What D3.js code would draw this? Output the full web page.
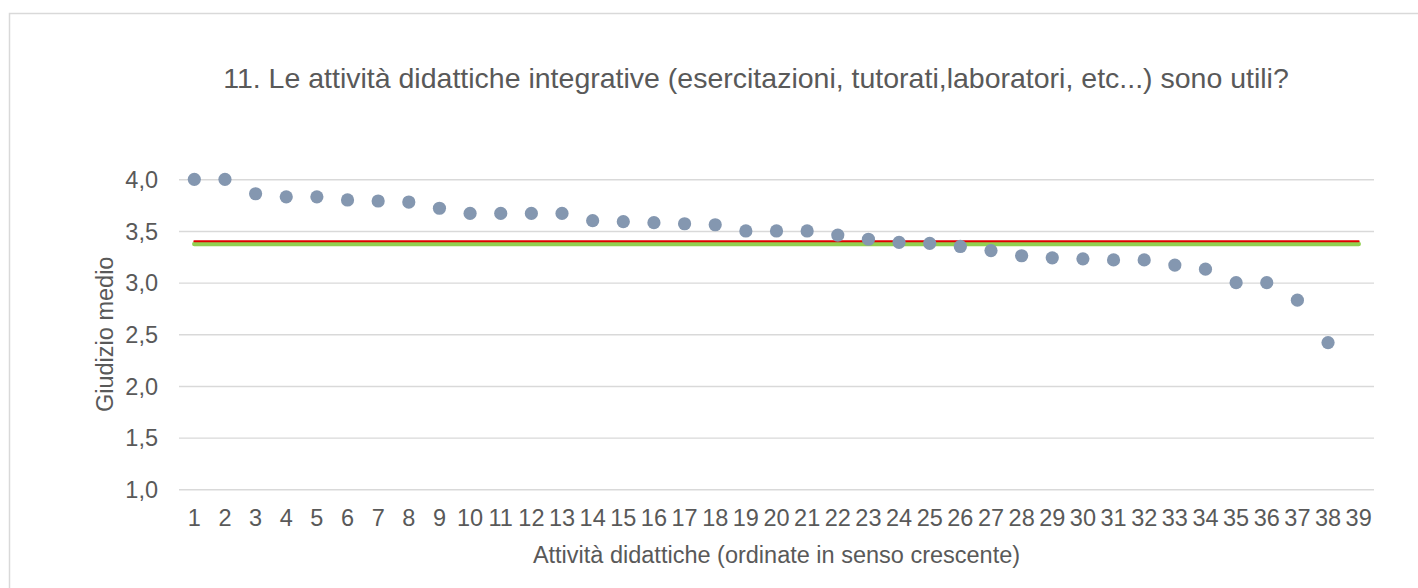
<!DOCTYPE html>
<html>
<head>
<meta charset="utf-8">
<script src="https://cdn.jsdelivr.net/npm/d3@7"></script>
<style>
  html, body { margin: 0; padding: 0; background: #fff; }
  svg { display: block; }
  text { font-family: "Liberation Sans", Arial, sans-serif; fill: #595959; }
</style>
</head>
<body>
<svg id="chart" width="1418" height="588"></svg>
<script>
// ---- data ----
const categories = d3.range(1, 40).map(String); // "1".."39"
const giudizi = [4.00, 4.00, 3.86, 3.83, 3.83, 3.80, 3.79, 3.78, 3.72, 3.67,
                 3.67, 3.67, 3.67, 3.60, 3.59, 3.58, 3.57, 3.56, 3.50, 3.50,
                 3.50, 3.46, 3.42, 3.39, 3.38, 3.35, 3.31, 3.26, 3.24, 3.23,
                 3.22, 3.22, 3.17, 3.13, 3.00, 3.00, 2.83, 2.42];
const yTicks = [1.0, 1.5, 2.0, 2.5, 3.0, 3.5, 4.0];
const mediaRossa = 3.40;
const mediaVerde = 3.375;
const titolo = "11. Le attività didattiche integrative (esercitazioni, tutorati,laboratori, etc...) sono utili?";
const titoloX = "Attività didattiche (ordinate in senso crescente)";
const titoloY = "Giudizio medio";

// ---- layout ----
const svg = d3.select("#chart");
const plot = { left: 179, right: 1374, top: 179.3, bottom: 489.3 };

const x = d3.scaleBand().domain(categories).range([plot.left, plot.right]).padding(0);
const y = d3.scaleLinear().domain([1, 4]).range([plot.bottom, plot.top]);
const fmt = v => d3.format(".1f")(v).replace(".", ",");

// chart border
svg.append("rect")
  .attr("x", 9.5).attr("y", 13.5)
  .attr("width", 1600).attr("height", 700)
  .attr("fill", "#fff").attr("stroke", "#d9d9d9").attr("stroke-width", 1.5);

// title
svg.append("text")
  .attr("x", 756).attr("y", 88)
  .attr("text-anchor", "middle")
  .style("font-size", "28.5px")
  .text(titolo);

// gridlines
svg.append("g")
  .attr("transform", `translate(${plot.left},0)`)
  .call(d3.axisLeft(y).tickValues(yTicks).tickSize(-(plot.right - plot.left)).tickFormat(""))
  .call(g => g.select(".domain").remove())
  .call(g => g.selectAll("line").attr("stroke", "#d9d9d9").attr("stroke-width", 1.4));

// y tick labels
svg.append("g")
  .attr("transform", `translate(${plot.left - 21},0)`)
  .call(d3.axisLeft(y).tickValues(yTicks).tickSize(0).tickPadding(0).tickFormat(fmt))
  .call(g => g.select(".domain").remove())
  .call(g => g.selectAll("text")
    .style("font-size", "23.5px")
    .style("font-family", "'Liberation Sans', Arial, sans-serif")
    .attr("fill", "#595959").attr("dy", "0.35em"));

// x tick labels
svg.append("g")
  .attr("transform", `translate(0,${plot.bottom})`)
  .call(d3.axisBottom(x).tickSize(0).tickPadding(0))
  .call(g => g.select(".domain").remove())
  .call(g => g.selectAll("text")
    .style("font-size", "23.5px")
    .style("font-family", "'Liberation Sans', Arial, sans-serif")
    .attr("fill", "#595959").attr("dy", null).attr("y", 37));

// axis titles
svg.append("text")
  .attr("x", (plot.left + plot.right) / 2).attr("y", 563)
  .attr("text-anchor", "middle")
  .style("font-size", "23.5px")
  .text(titoloX);

svg.append("text")
  .attr("transform", `translate(113,${(plot.top + plot.bottom) / 2}) rotate(-90)`)
  .attr("text-anchor", "middle")
  .style("font-size", "23.5px")
  .text(titoloY);

// reference lines
const xc = c => x(c) + x.bandwidth() / 2;
const firstC = categories[0], lastC = categories[categories.length - 1];
svg.append("line")
  .attr("x1", xc(firstC)).attr("x2", xc(lastC))
  .attr("y1", y(mediaVerde)).attr("y2", y(mediaVerde))
  .attr("stroke", "#92d050").attr("stroke-width", 4.5).attr("stroke-linecap", "round");
svg.append("line")
  .attr("x1", xc(firstC)).attr("x2", xc(lastC))
  .attr("y1", y(mediaRossa)).attr("y2", y(mediaRossa))
  .attr("stroke", "#e00000").attr("stroke-width", 2).attr("stroke-linecap", "round");

// points
svg.append("g")
  .selectAll("circle")
  .data(giudizi)
  .join("circle")
  .attr("cx", (d, i) => xc(categories[i]))
  .attr("cy", d => y(d))
  .attr("r", 6.6)
  .attr("fill", "#8497b0");
</script>
</body>
</html>
